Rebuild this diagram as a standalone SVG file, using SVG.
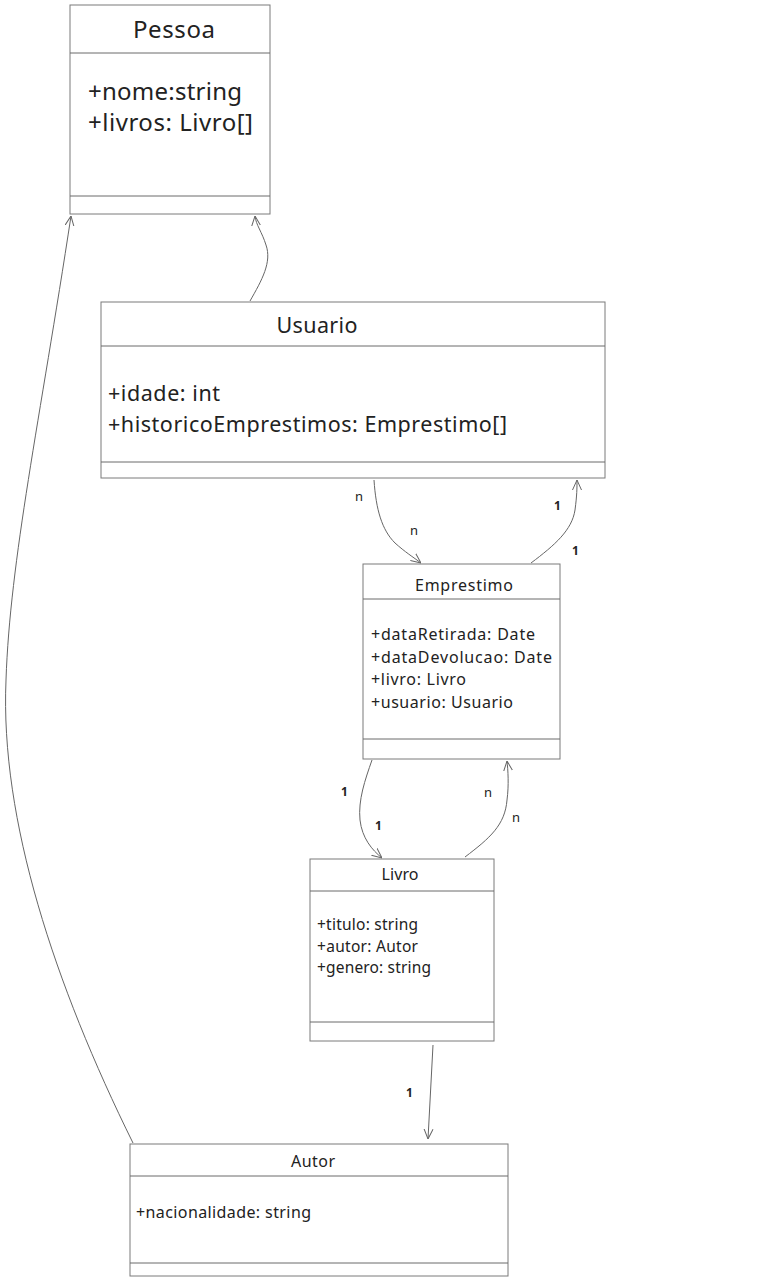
<svg xmlns="http://www.w3.org/2000/svg" width="774" height="1280" viewBox="0 0 774 1280">
<style>
.box{fill:#fff;stroke:#7a7a7a;stroke-width:1}
.sep{stroke:#6a6a6a;stroke-width:1}
text{font-family:"Noto Sans","Open Sans",sans-serif;fill:#222}
.t1{font-size:24px}
.t2{font-size:21.5px}
.t3{font-size:16px}
.t4{font-size:15.5px}
.conn path{fill:none;stroke:#666;stroke-width:1}
.lbl{font-size:13px}
.one{font-size:12px;font-weight:bold}
</style>
<defs>
<marker id="arr" viewBox="0 0 10 10" refX="10" refY="5" markerWidth="10" markerHeight="10" markerUnits="userSpaceOnUse" orient="auto">
<path d="M0,0.5 L10,5 L0,9.5" fill="none" stroke="#666" stroke-width="1"/>
</marker>
</defs>
<rect width="774" height="1280" fill="#fff"/>
<g class="conn">
<path d="M250,301 C262,280 272,262 266,245 C262,232 256,225 255,216" marker-end="url(#arr)"/>
<path d="M133,1143 C55,985 0,820 6,680 C10,560 40,420 71,216" marker-end="url(#arr)"/>
<path d="M374,480 C376,510 382,530 395,543 C405,552 413,557 421,563" marker-end="url(#arr)"/>
<path d="M531,563 C555,545 572,530 575,510 C577,495 577,488 577,480" marker-end="url(#arr)"/>
<path d="M372,760 C365,780 358,800 360,820 C362,838 372,850 382,858" marker-end="url(#arr)"/>
<path d="M465,857 C490,838 505,825 507,800 C509,785 508,770 507,761" marker-end="url(#arr)"/>
<path d="M433,1045 L428,1139" marker-end="url(#arr)"/>
<text class="lbl" x="355" y="501">n</text>
<text class="lbl" x="410" y="535">n</text>
<text class="one" x="554" y="510">1</text>
<text class="one" x="572" y="555">1</text>
<text class="one" x="341" y="796">1</text>
<text class="one" x="375" y="830">1</text>
<text class="lbl" x="484" y="797">n</text>
<text class="lbl" x="512" y="822">n</text>
<text class="one" x="406" y="1097">1</text>
</g>
<g id="Pessoa">
<rect class="box" x="70" y="5" width="200" height="209"/>
<line class="sep" x1="70" y1="53" x2="270" y2="53"/>
<line class="sep" x1="70" y1="196" x2="270" y2="196"/>
<text class="t1" x="174" y="38" text-anchor="middle" textLength="82">Pessoa</text>
<text class="t1" x="88" y="100" textLength="154">+nome:string</text>
<text class="t1" x="88" y="131" textLength="165">+livros: Livro[]</text>
</g>
<g id="Usuario">
<rect class="box" x="101" y="302" width="504" height="176"/>
<line class="sep" x1="101" y1="346" x2="605" y2="346"/>
<line class="sep" x1="101" y1="462" x2="605" y2="462"/>
<text class="t2" x="317" y="333" text-anchor="middle" textLength="81">Usuario</text>
<text class="t2" x="108" y="401" textLength="112">+idade: int</text>
<text class="t2" x="108" y="432" textLength="399">+historicoEmprestimos: Emprestimo[]</text>
</g>
<g id="Emprestimo">
<rect class="box" x="363" y="564" width="197" height="195"/>
<line class="sep" x1="363" y1="599" x2="560" y2="599"/>
<line class="sep" x1="363" y1="739" x2="560" y2="739"/>
<text class="t3" x="464" y="591" text-anchor="middle" textLength="98">Emprestimo</text>
<text class="t3" x="371" y="640" textLength="164">+dataRetirada: Date</text>
<text class="t3" x="371" y="663" textLength="181">+dataDevolucao: Date</text>
<text class="t3" x="371" y="685" textLength="95">+livro: Livro</text>
<text class="t3" x="371" y="708" textLength="142">+usuario: Usuario</text>
</g>
<g id="Livro">
<rect class="box" x="310" y="859" width="184" height="182"/>
<line class="sep" x1="310" y1="891" x2="494" y2="891"/>
<line class="sep" x1="310" y1="1022" x2="494" y2="1022"/>
<text class="t3" x="400" y="880" text-anchor="middle" textLength="37">Livro</text>
<text class="t4" x="317" y="930" textLength="101">+titulo: string</text>
<text class="t4" x="317" y="952" textLength="101">+autor: Autor</text>
<text class="t4" x="317" y="973" textLength="114">+genero: string</text>
</g>
<g id="Autor">
<rect class="box" x="130" y="1144" width="378" height="132"/>
<line class="sep" x1="130" y1="1176" x2="508" y2="1176"/>
<line class="sep" x1="130" y1="1263" x2="508" y2="1263"/>
<text class="t3" x="313" y="1167" text-anchor="middle" textLength="44">Autor</text>
<text class="t3" x="136" y="1218" textLength="175">+nacionalidade: string</text>
</g>
</svg>
